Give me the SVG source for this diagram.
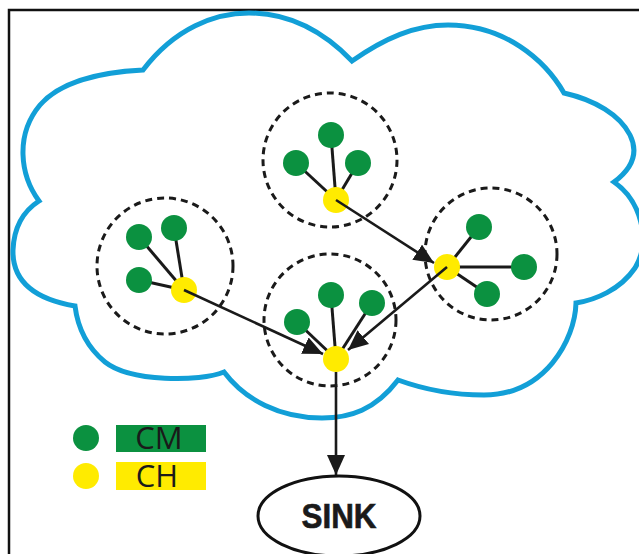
<svg xmlns="http://www.w3.org/2000/svg" width="639" height="554" viewBox="0 0 639 554">
<style>
.cloud{fill:none;stroke:#129fd7;stroke-width:5;stroke-linejoin:miter}
.ring{fill:none;stroke:#1a1a1a;stroke-width:3;stroke-dasharray:7 5}
.cm{fill:#0b9140}
.ch{fill:#ffeb00}
.link{stroke:#1a1a1a;stroke-width:3;fill:none}
.conn{stroke:#1a1a1a;stroke-width:2.6;fill:none;marker-end:url(#arr)}
.leg{font-family:"Open Sans","Liberation Sans",sans-serif;font-size:31px;fill:#1a1a1a;text-anchor:middle}
</style>
<defs>
<marker id="arr" markerUnits="userSpaceOnUse" markerWidth="22" markerHeight="20" refX="20" refY="9" orient="auto">
<path d="M0,0 L20,9 L0,18 z" fill="#1a1a1a"/>
</marker>
</defs>
<rect width="639" height="554" fill="#fff"/>
<rect x="9" y="10" width="640" height="560" fill="none" stroke="#111" stroke-width="2.5"/>
<path class="cloud" d="M143,70 C175,28 215,13 249,13 C290,13 325,33 352,61 C385,38 415,25 448,25 C505,25 545,60 564,93 C595,100 620,115 630,135 C640,155 630,170 614,182 C640,200 652,240 635,268 C620,290 595,300 576,303 C575,340 545,395 484,395 C450,395 420,388 398,380 C375,410 350,418 322,418 C280,418 245,400 224,372 C200,382 130,382 105,362 C88,348 78,330 75,306 C40,300 12,285 13,250 C14,225 25,210 39,201 C20,175 15,135 40,105 C60,82 100,72 143,70 Z"/>
<g id="cluster-top">
<circle class="ring" cx="330" cy="160" r="67"/>
<line class="link" x1="336" y1="200" x2="331" y2="135"/>
<line class="link" x1="336" y1="200" x2="296" y2="163"/>
<line class="link" x1="336" y1="200" x2="358" y2="163"/>
<circle class="cm" cx="331" cy="135" r="13"/>
<circle class="cm" cx="296" cy="163" r="13"/>
<circle class="cm" cx="358" cy="163" r="13"/>
<circle class="ch" cx="336" cy="200" r="13"/>
</g>
<g id="cluster-left">
<circle class="ring" cx="165" cy="266" r="68"/>
<line class="link" x1="184" y1="290" x2="139" y2="237"/>
<line class="link" x1="184" y1="290" x2="174" y2="228"/>
<line class="link" x1="184" y1="290" x2="139" y2="280"/>
<circle class="cm" cx="139" cy="237" r="13"/>
<circle class="cm" cx="174" cy="228" r="13"/>
<circle class="cm" cx="139" cy="280" r="13"/>
<circle class="ch" cx="184" cy="290" r="13"/>
</g>
<g id="cluster-right">
<circle class="ring" cx="491" cy="254" r="66"/>
<line class="link" x1="447" y1="267" x2="479" y2="227"/>
<line class="link" x1="447" y1="267" x2="524" y2="267"/>
<line class="link" x1="447" y1="267" x2="487" y2="294"/>
<circle class="cm" cx="479" cy="227" r="13"/>
<circle class="cm" cx="524" cy="267" r="13"/>
<circle class="cm" cx="487" cy="294" r="13"/>
<circle class="ch" cx="447" cy="267" r="13"/>
</g>
<g id="cluster-mid">
<circle class="ring" cx="330" cy="320" r="66"/>
<line class="link" x1="336" y1="359" x2="331" y2="295"/>
<line class="link" x1="336" y1="359" x2="372" y2="303"/>
<line class="link" x1="336" y1="359" x2="297" y2="322"/>
<circle class="cm" cx="331" cy="295" r="13"/>
<circle class="cm" cx="372" cy="303" r="13"/>
<circle class="cm" cx="297" cy="322" r="13"/>
<circle class="ch" cx="336" cy="359" r="13"/>
</g>
<g id="connectors">
<path class="conn" d="M336,200 L434,263"/>
<path class="conn" d="M184,290 L323,354"/>
<path class="conn" d="M447,267 L348,350"/>
<path class="conn" d="M336,372 L336,475"/>
</g>
<g id="sink">
<ellipse cx="339" cy="516" rx="81" ry="40" fill="#fff" stroke="#111" stroke-width="3"/>
<text x="339" y="528" font-family="'Liberation Sans',Arial,sans-serif" font-weight="bold" font-size="35" text-anchor="middle" textLength="75" lengthAdjust="spacingAndGlyphs" fill="#1a1a1a" stroke="#1a1a1a" stroke-width="0.7">SINK</text>
</g>
<g id="legend-cm">
<circle class="cm" cx="86" cy="438" r="13"/>
<rect x="116" y="425" width="90" height="27" fill="#0b9140"/>
<text class="leg" x="159" y="449">CM</text>
</g>
<g id="legend-ch">
<circle class="ch" cx="86" cy="476" r="13"/>
<rect x="116" y="462" width="90" height="28" fill="#ffeb00"/>
<text class="leg" x="157" y="487">CH</text>
</g>
</svg>
